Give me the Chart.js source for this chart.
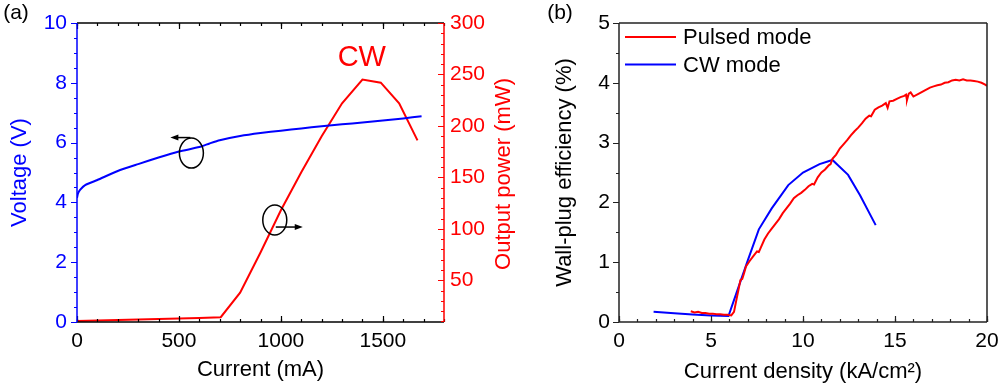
<!DOCTYPE html>
<html>
<head>
<meta charset="utf-8">
<script src="https://cdn.jsdelivr.net/npm/chart.js@4.4.1/dist/chart.umd.min.js"></script>
<style>
  body { margin: 0; background: #fff; width: 1000px; height: 385px; overflow: hidden; position: relative; }
  #chartA { position: absolute; left: 0; top: 0; }
  #chartB { position: absolute; left: 530px; top: 0; }
</style>
</head>
<body>
<canvas id="chartA" width="530" height="385"></canvas>
<canvas id="chartB" width="470" height="385"></canvas>
<script>
// ---- panel (a): CW L-I-V ----
var currentV = [0, 5, 15, 40, 100, 200, 300, 400, 500, 600, 650, 700, 800, 900, 1000, 1100, 1200, 1300, 1400, 1500, 1600, 1690];
var voltage  = [4.15, 4.3, 4.42, 4.58, 4.75, 5.05, 5.28, 5.5, 5.7, 5.85, 5.97, 6.08, 6.22, 6.32, 6.4, 6.47, 6.55, 6.61, 6.67, 6.74, 6.81, 6.88];
var currentP = [0, 100, 200, 300, 400, 500, 600, 705, 800, 900, 1000, 1100, 1200, 1300, 1400, 1490, 1580, 1670];
var power    = [10.5, 11, 11.5, 12, 12.5, 13, 13.5, 14.2, 38, 77, 118, 155, 190, 222, 245, 242, 222, 186];
var ticksCurrent = [0, 500, 1000, 1500];
var ticksVoltage = [0, 2, 4, 6, 8, 10];
var ticksPower   = [50, 100, 150, 200, 250, 300];

// ---- panel (b): wall-plug efficiency ----
var densPulsed = [3.9, 4.1, 4.3, 4.5, 4.7, 4.9, 5.1, 5.3, 5.5, 5.7, 5.9, 6.1, 6.25, 6.4, 6.5, 6.6, 6.7, 6.8, 6.9, 7.1, 7.3, 7.5, 7.6, 7.7, 7.9, 8.1, 8.3, 8.5, 8.7, 8.9, 9.1, 9.3, 9.5, 9.7, 9.9, 10.1, 10.3, 10.5, 10.6, 10.8, 11.0, 11.2, 11.4, 11.5, 11.6, 11.8, 12.0, 12.2, 12.4, 12.6, 12.8, 13.0, 13.2, 13.4, 13.6, 13.7, 13.9, 14.1, 14.3, 14.5, 14.6, 14.7, 14.9, 15.1, 15.3, 15.5, 15.6, 15.65, 15.75, 15.85, 16.0, 16.3, 16.6, 16.9, 17.1, 17.3, 17.5, 17.7, 17.9, 18.1, 18.3, 18.5, 18.7, 18.9, 19.1, 19.3, 19.5, 19.7, 19.9, 20.0];
var wpePulsed  = [0.18, 0.16, 0.17, 0.15, 0.15, 0.14, 0.14, 0.13, 0.13, 0.12, 0.12, 0.11, 0.17, 0.40, 0.55, 0.70, 0.72, 0.82, 0.93, 1.02, 1.10, 1.18, 1.17, 1.24, 1.38, 1.48, 1.56, 1.64, 1.72, 1.82, 1.90, 1.98, 2.07, 2.12, 2.16, 2.21, 2.27, 2.31, 2.30, 2.42, 2.50, 2.55, 2.62, 2.64, 2.73, 2.80, 2.90, 2.97, 3.04, 3.12, 3.19, 3.25, 3.32, 3.40, 3.45, 3.44, 3.55, 3.59, 3.62, 3.66, 3.58, 3.69, 3.70, 3.73, 3.76, 3.78, 3.80, 3.71, 3.82, 3.84, 3.77, 3.82, 3.87, 3.92, 3.94, 3.96, 3.97, 4.00, 4.01, 4.04, 4.05, 4.04, 4.06, 4.04, 4.04, 4.03, 4.02, 4.00, 3.97, 3.95];
var densCW = [1.88, 3.0, 4.0, 5.0, 5.95, 6.4, 7.0, 7.6, 8.3, 9.2, 10.0, 10.9, 11.6, 12.45, 13.1, 13.95];
var wpeCW  = [0.17, 0.145, 0.125, 0.11, 0.10, 0.50, 1.03, 1.55, 1.90, 2.29, 2.50, 2.64, 2.71, 2.46, 2.12, 1.62];
var ticksDensity = [0, 5, 10, 15, 20];
var ticksWpe     = [0, 1, 2, 3, 4, 5];

var BLUE = 'rgb(0,0,255)';
var RED = 'rgb(255,0,0)';
var FONT = "'Liberation Sans', Arial, sans-serif";
Chart.defaults.font.family = FONT;
Chart.defaults.color = '#000';

function pts(xs, ys) {
  return xs.map(function (x, i) { return { x: x, y: ys[i] }; });
}
function fixTicks(list) {
  return function (s) { s.ticks = list.map(function (v) { return { value: v }; }); };
}
function plain(v) { return String(v); }
function noPad(size, isX) {
  return function (s) {
    if (isX) { s.height = size; } else { s.width = size; }
    s.paddingLeft = 0; s.paddingRight = 0; s.paddingTop = 0; s.paddingBottom = 0;
  };
}

// tick marks along one edge of the plot area
function marks(ctx, scale, side, step, len, out) {
  var a = scale.chart.chartArea;
  var i0 = Math.ceil(scale.min / step - 1e-6), i1 = Math.floor(scale.max / step + 1e-6);
  var d = out ? -len : len;
  ctx.beginPath();
  for (var i = i0; i <= i1; i++) {
    var p = Math.round(scale.getPixelForValue(i * step)) + 0.5;
    if (side === 'bottom') { ctx.moveTo(p, a.bottom); ctx.lineTo(p, a.bottom - d); }
    if (side === 'top') { ctx.moveTo(p, a.top); ctx.lineTo(p, a.top + d); }
    if (side === 'left') { ctx.moveTo(a.left, p); ctx.lineTo(a.left + d, p); }
    if (side === 'right') { ctx.moveTo(a.right, p); ctx.lineTo(a.right - d, p); }
  }
  ctx.stroke();
}
function edge(ctx, a, side, color) {
  ctx.strokeStyle = color;
  ctx.lineWidth = 1.5;
  ctx.beginPath();
  if (side === 'bottom') { ctx.moveTo(a.left, a.bottom); ctx.lineTo(a.right, a.bottom); }
  if (side === 'top') { ctx.moveTo(a.left, a.top); ctx.lineTo(a.right, a.top); }
  if (side === 'left') { ctx.moveTo(a.left, a.top); ctx.lineTo(a.left, a.bottom); }
  if (side === 'right') { ctx.moveTo(a.right, a.top); ctx.lineTo(a.right, a.bottom); }
  ctx.stroke();
}
function arrow(ctx, x1, y, x2) {
  var dir = x2 > x1 ? 1 : -1;
  ctx.beginPath();
  ctx.moveTo(x1, y);
  ctx.lineTo(x2 - dir * 6, y);
  ctx.stroke();
  ctx.beginPath();
  ctx.moveTo(x2, y);
  ctx.lineTo(x2 - dir * 8, y - 3);
  ctx.lineTo(x2 - dir * 8, y + 3);
  ctx.closePath();
  ctx.fill();
}

var frameA = {
  id: 'frameA',
  afterDraw: function (chart) {
    var ctx = chart.ctx, a = chart.chartArea, s = chart.scales;
    ctx.save();
    edge(ctx, a, 'bottom', '#000');
    edge(ctx, a, 'top', '#000');
    ctx.lineWidth = 1.2;
    marks(ctx, s.x, 'bottom', 500, 6, false);
    marks(ctx, s.x, 'bottom', 100, 3, false);
    marks(ctx, s.x, 'top', 500, 6, false);
    marks(ctx, s.x, 'top', 100, 3, false);
    edge(ctx, a, 'left', BLUE);
    ctx.lineWidth = 1.2;
    marks(ctx, s.y, 'left', 2, 6, true);
    marks(ctx, s.y, 'left', 0.5, 3, true);
    edge(ctx, a, 'right', RED);
    ctx.lineWidth = 1.2;
    marks(ctx, s.y2, 'right', 50, 6, false);
    marks(ctx, s.y2, 'right', 10, 3, false);

    // circles with arrows
    ctx.strokeStyle = '#000';
    ctx.fillStyle = '#000';
    ctx.lineWidth = 1.5;
    var c1x = s.x.getPixelForValue(561), c1y = s.y.getPixelForValue(5.65);
    ctx.beginPath(); ctx.ellipse(c1x, c1y, 12, 15, 0, 0, Math.PI * 2); ctx.stroke();
    arrow(ctx, c1x - 1, c1y - 15.5, c1x - 21);
    var c2x = s.x.getPixelForValue(970), c2y = s.y.getPixelForValue(3.41);
    ctx.beginPath(); ctx.ellipse(c2x, c2y, 12, 15, 0, 0, Math.PI * 2); ctx.stroke();
    arrow(ctx, c2x + 1, c2y + 7, c2x + 28);

    // labels
    ctx.fillStyle = RED;
    ctx.font = '29px ' + FONT;
    ctx.textAlign = 'center';
    ctx.textBaseline = 'middle';
    ctx.fillText('CW', s.x.getPixelForValue(1397), s.y.getPixelForValue(8.84));
    ctx.font = '22px ' + FONT;
    ctx.translate(504, 174);
    ctx.rotate(-Math.PI / 2);
    ctx.fillText('Output power (mW)', 0, 0);
    ctx.restore();
    ctx.save();
    ctx.fillStyle = '#000';
    ctx.font = '21px ' + FONT;
    ctx.textAlign = 'center';
    ctx.textBaseline = 'middle';
    ctx.fillText('(a)', 16, 13);
    ctx.restore();
  }
};

var frameB = {
  id: 'frameB',
  afterDraw: function (chart) {
    var ctx = chart.ctx, a = chart.chartArea, s = chart.scales;
    ctx.save();
    ['bottom', 'top', 'left', 'right'].forEach(function (side) { edge(ctx, a, side, '#222'); });
    ctx.lineWidth = 1.2;
    marks(ctx, s.x, 'bottom', 5, 6, false);
    marks(ctx, s.x, 'bottom', 1, 3, false);
    marks(ctx, s.y, 'left', 1, 6, true);
    marks(ctx, s.y, 'left', 0.5, 3, true);

    // legend
    ctx.font = '22px ' + FONT;
    ctx.textAlign = 'left';
    ctx.textBaseline = 'middle';
    chart.data.datasets.forEach(function (ds, i) {
      var y = 37 + i * 27.5;
      ctx.strokeStyle = ds.borderColor;
      ctx.lineWidth = 2;
      ctx.beginPath(); ctx.moveTo(95, y); ctx.lineTo(146, y); ctx.stroke();
      ctx.fillStyle = '#000';
      ctx.fillText(ds.label, 153, y + 1);
    });
    ctx.font = '21px ' + FONT;
    ctx.textAlign = 'center';
    ctx.fillText('(b)', 30, 13);
    ctx.restore();
  }
};

new Chart(document.getElementById('chartA'), {
  type: 'line',
  data: {
    datasets: [
      { label: 'Voltage', data: pts(currentV, voltage), yAxisID: 'y', borderColor: BLUE, borderWidth: 2, pointRadius: 0, tension: 0.2 },
      { label: 'Output power', data: pts(currentP, power), yAxisID: 'y2', borderColor: RED, borderWidth: 2, pointRadius: 0, tension: 0 }
    ]
  },
  options: {
    responsive: false,
    animation: false,
    layout: { padding: { top: 23, left: 0, right: 0, bottom: 0 } },
    plugins: { legend: { display: false }, tooltip: { enabled: false } },
    scales: {
      x: {
        type: 'linear', min: 0, max: 1800,
        afterBuildTicks: fixTicks(ticksCurrent),
        afterFit: noPad(63, true),
        grid: { display: false, drawTicks: false }, border: { display: false },
        ticks: { font: { size: 21 }, color: '#000', padding: 7, maxRotation: 0, callback: plain },
        title: { display: true, text: 'Current (mA)', font: { size: 22 }, color: '#000', padding: { top: 0, bottom: 2 } }
      },
      y: {
        type: 'linear', position: 'left', min: 0, max: 10,
        afterBuildTicks: fixTicks(ticksVoltage),
        afterFit: noPad(77, false),
        grid: { display: false, drawTicks: false }, border: { display: false },
        ticks: { font: { size: 21 }, color: BLUE, padding: 10, callback: plain },
        title: { display: true, text: 'Voltage (V)', font: { size: 22 }, color: BLUE, padding: { top: 7, bottom: 0 } }
      },
      y2: {
        type: 'linear', position: 'right', min: 9.5, max: 300,
        afterBuildTicks: fixTicks(ticksPower),
        afterFit: noPad(86, false),
        grid: { display: false, drawTicks: false }, border: { display: false },
        ticks: { font: { size: 21 }, color: RED, padding: 6, callback: plain }
      }
    }
  },
  plugins: [frameA]
});

new Chart(document.getElementById('chartB'), {
  type: 'line',
  data: {
    datasets: [
      { label: 'Pulsed mode', data: pts(densPulsed, wpePulsed), borderColor: RED, borderWidth: 2, pointRadius: 0, tension: 0 },
      { label: 'CW mode', data: pts(densCW, wpeCW), borderColor: BLUE, borderWidth: 2, pointRadius: 0, tension: 0 }
    ]
  },
  options: {
    responsive: false,
    animation: false,
    layout: { padding: { top: 23, left: 0, right: 13, bottom: 0 } },
    plugins: { legend: { display: false }, tooltip: { enabled: false } },
    scales: {
      x: {
        type: 'linear', min: 0, max: 20,
        afterBuildTicks: fixTicks(ticksDensity),
        afterFit: noPad(63, true),
        grid: { display: false, drawTicks: false }, border: { display: false },
        ticks: { font: { size: 21 }, color: '#000', padding: 7, maxRotation: 0, callback: plain },
        title: { display: true, text: 'Current density (kA/cm\u00b2)', font: { size: 22 }, color: '#000', padding: { top: 0, bottom: 0 } }
      },
      y: {
        type: 'linear', min: 0, max: 5,
        afterBuildTicks: fixTicks(ticksWpe),
        afterFit: noPad(89, false),
        grid: { display: false, drawTicks: false }, border: { display: false },
        ticks: { font: { size: 21 }, color: '#000', padding: 9, callback: plain },
        title: { display: true, text: 'Wall-plug efficiency (%)', font: { size: 22 }, color: '#000', padding: { top: 22, bottom: 0 } }
      }
    }
  },
  plugins: [frameB]
});
</script>
</body>
</html>
